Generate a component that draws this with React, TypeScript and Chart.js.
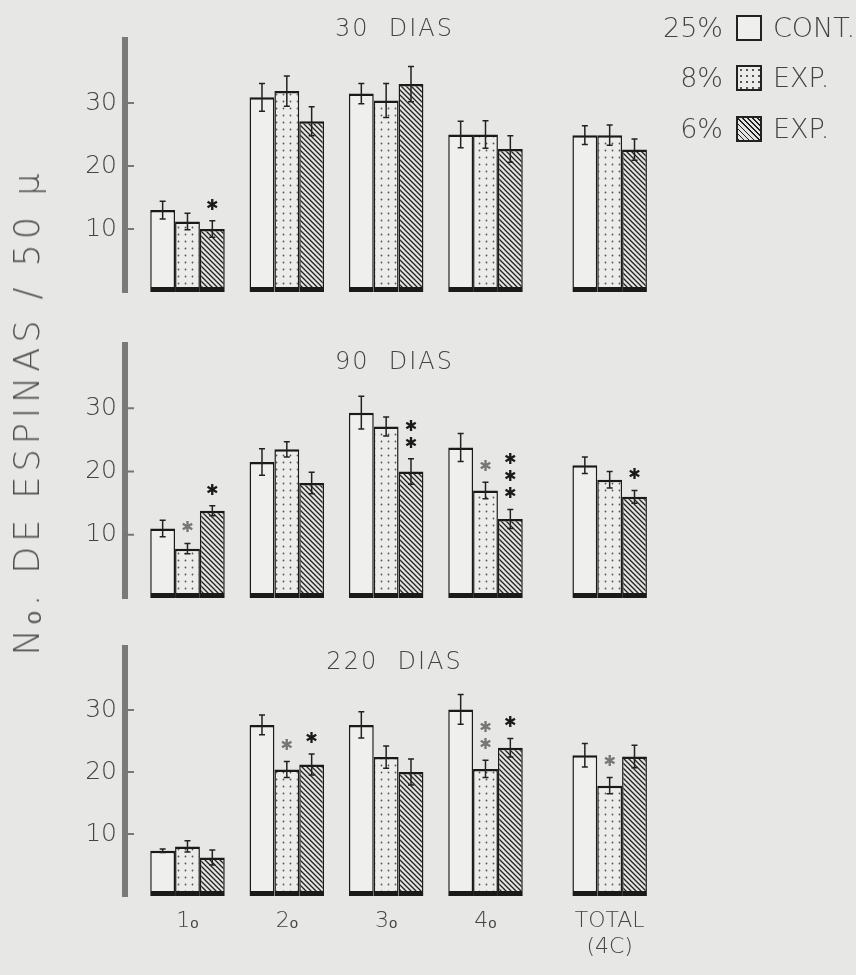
import React, { useEffect, useRef } from 'react';
import { Chart, registerables } from 'chart.js';

Chart.register(...registerables);

// ---------- data ----------
const groupLabels: (string | string[])[] = ['1ₒ', '2ₒ', '3ₒ', '4ₒ', ['TOTAL', '(4C)']];
const groupPositions = [1, 2, 3, 4, 5.25];
const seriesPercent = ['25%', '8%', '6%'];
const seriesNames = ['CONT.', 'EXP.', 'EXP.'];
const yTicks = [10, 20, 30];

// 30 DIAS
const cont30 = [13.0, 30.9, 31.5, 25.0, 24.9];
const cont30Err = [1.4, 2.2, 1.6, 2.1, 1.5];
const exp8_30 = [11.2, 31.9, 30.4, 25.0, 24.9];
const exp8_30Err = [1.3, 2.4, 2.7, 2.2, 1.6];
const exp6_30 = [10.0, 27.1, 33.0, 22.7, 22.6];
const exp6_30Err = [1.3, 2.3, 2.8, 2.1, 1.7];
const sig8_30 = [0, 0, 0, 0, 0];
const sig6_30 = [1, 0, 0, 0, 0];

// 90 DIAS
const cont90 = [11.0, 21.5, 29.3, 23.8, 21.0];
const cont90Err = [1.3, 2.1, 2.6, 2.2, 1.3];
const exp8_90 = [7.8, 23.5, 27.1, 17.0, 18.7];
const exp8_90Err = [0.8, 1.2, 1.5, 1.3, 1.3];
const exp6_90 = [13.8, 18.2, 20.0, 12.5, 16.0];
const exp6_90Err = [0.8, 1.7, 2.0, 1.5, 1.0];
const sig8_90 = [1, 0, 0, 1, 0];
const sig6_90 = [1, 0, 2, 3, 1];

// 220 DIAS
const cont220 = [7.3, 27.6, 27.6, 30.1, 22.7];
const cont220Err = [0.3, 1.6, 2.1, 2.4, 1.9];
const exp8_220 = [8.0, 20.4, 22.4, 20.5, 17.8];
const exp8_220Err = [0.9, 1.3, 1.8, 1.4, 1.3];
const exp6_220 = [6.2, 21.2, 20.0, 23.9, 22.5];
const exp6_220Err = [1.2, 1.7, 2.1, 1.5, 1.8];
const sig8_220 = [0, 1, 0, 2, 1];
const sig6_220 = [0, 1, 0, 1, 0];

const zeros = [0, 0, 0, 0, 0];

// ---------- styling / layout ----------
const FONT = '"DejaVu Sans", "Open Sans", sans-serif';
const BG = '#e7e7e5';
const TEXT = '#444';

type PanelDef = {
  title: string;
  values: number[][];
  errors: number[][];
  sig: number[][];
  top: number;
  height: number;
  padTop: number;
  padBottom: number;
  titleDy: number;
  showX: boolean;
};

const panels: PanelDef[] = [
  {
    title: '30  DIAS',
    values: [cont30, exp8_30, exp6_30],
    errors: [cont30Err, exp8_30Err, exp6_30Err],
    sig: [zeros, sig8_30, sig6_30],
    top: 0, height: 300, padTop: 40, padBottom: 8, titleDy: -10, showX: false,
  },
  {
    title: '90  DIAS',
    values: [cont90, exp8_90, exp6_90],
    errors: [cont90Err, exp8_90Err, exp6_90Err],
    sig: [zeros, sig8_90, sig6_90],
    top: 305, height: 305, padTop: 40, padBottom: 12, titleDy: 18, showX: false,
  },
  {
    title: '220  DIAS',
    values: [cont220, exp8_220, exp6_220],
    errors: [cont220Err, exp8_220Err, exp6_220Err],
    sig: [zeros, sig8_220, sig6_220],
    top: 615, height: 360, padTop: 33, padBottom: 0, titleDy: 15, showX: true,
  },
];

function makeDotPattern(): CanvasPattern | string {
  const c = document.createElement('canvas');
  c.width = 7; c.height = 7;
  const g = c.getContext('2d');
  if (!g) return '#ddd';
  g.fillStyle = '#ececea';
  g.fillRect(0, 0, 7, 7);
  g.fillStyle = '#555';
  g.beginPath();
  g.arc(3.5, 3.5, 0.9, 0, Math.PI * 2);
  g.fill();
  return g.createPattern(c, 'repeat') || '#ddd';
}

function makeHatchPattern(): CanvasPattern | string {
  const s = 5;
  const c = document.createElement('canvas');
  c.width = s; c.height = s;
  const g = c.getContext('2d');
  if (!g) return '#999';
  g.fillStyle = '#e4e4e2';
  g.fillRect(0, 0, s, s);
  g.strokeStyle = '#222';
  g.lineWidth = 1.3;
  g.beginPath();
  g.moveTo(-1, -1); g.lineTo(s + 1, s + 1);
  g.moveTo(-1, s - 1); g.lineTo(1, s + 1);
  g.moveTo(s - 1, -1); g.lineTo(s + 1, 1);
  g.stroke();
  return g.createPattern(c, 'repeat') || '#999';
}

function Panel({ def }: { def: PanelDef }) {
  const ref = useRef<HTMLCanvasElement | null>(null);
  useEffect(() => {
    if (!ref.current) return;
    const fills = ['#efefed', makeDotPattern(), makeHatchPattern()];
    const starColors = ['#222', '#777', '#1a1a1a'];

    const overlay = {
      id: 'overlay',
      afterDatasetsDraw(chart: any) {
        const ctx = chart.ctx;
        const ys = chart.scales.y;
        const area = chart.chartArea;
        ctx.save();
        // inside tick marks
        ctx.strokeStyle = '#777';
        ctx.lineWidth = 2;
        yTicks.forEach((t) => {
          const py = ys.getPixelForValue(t);
          ctx.beginPath();
          ctx.moveTo(area.left, py);
          ctx.lineTo(area.left + 9, py);
          ctx.stroke();
        });
        // error bars + asterisks
        def.values.forEach((vals, di) => {
          const meta = chart.getDatasetMeta(di);
          meta.data.forEach((el: any, j: number) => {
            const v = vals[j];
            const e = def.errors[di][j];
            const x = el.x;
            const yT = ys.getPixelForValue(v + e);
            const yB = ys.getPixelForValue(v - e);
            ctx.strokeStyle = '#222';
            ctx.lineWidth = 1.5;
            ctx.beginPath();
            ctx.moveTo(x, yT); ctx.lineTo(x, yB);
            ctx.moveTo(x - 3, yT); ctx.lineTo(x + 3, yT);
            ctx.moveTo(x - 3, yB); ctx.lineTo(x + 3, yB);
            ctx.stroke();
            const n = def.sig[di][j];
            ctx.fillStyle = starColors[di];
            ctx.font = `15px ${FONT}`;
            ctx.textAlign = 'center';
            ctx.textBaseline = 'middle';
            for (let k = 0; k < n; k++) {
              ctx.fillText('✱', x, yT - 15 - k * 17);
            }
          });
        });
        // title
        ctx.fillStyle = TEXT;
        ctx.font = `200 24px ${FONT}`;
        (ctx as any).letterSpacing = '2px';
        ctx.textAlign = 'center';
        ctx.textBaseline = 'middle';
        ctx.fillText(def.title, (area.left + area.right) / 2 - 8, area.top + def.titleDy);
        ctx.restore();
      },
    };

    const chart = new Chart(ref.current, {
      type: 'bar',
      data: {
        datasets: def.values.map((vals, di) => ({
          label: seriesPercent[di] + ' ' + seriesNames[di],
          data: vals.map((v, j) => ({ x: groupPositions[j], y: v })),
          backgroundColor: fills[di] as any,
          borderColor: '#1a1a1a',
          borderWidth: { top: 2.5, left: 1.5, right: 1.5, bottom: 5 },
          borderSkipped: false,
          categoryPercentage: 0.75,
          barPercentage: 1,
        })),
      },
      options: {
        animation: false,
        responsive: false,
        events: [],
        layout: { padding: { top: def.padTop, bottom: def.padBottom, left: 0, right: 176 } },
        plugins: { legend: { display: false }, tooltip: { enabled: false }, title: { display: false } },
        scales: {
          x: {
            type: 'linear',
            min: 0.371,
            max: 5.958,
            offset: false,
            display: def.showX,
            grid: { display: false, drawTicks: false },
            border: { display: false },
            afterBuildTicks: (s: any) => {
              s.ticks = groupPositions.map((v) => ({ value: v }));
            },
            afterFit: (s: any) => {
              s.height = def.showX ? 79 : 0;
              s.paddingLeft = 0;
              s.paddingRight = 0;
              s.paddingTop = 0;
              s.paddingBottom = 0;
            },
            ticks: {
              autoSkip: false,
              maxRotation: 0,
              minRotation: 0,
              padding: 12,
              color: TEXT,
              font: { family: FONT, size: 22, weight: 200 as any },
              callback: (_v: any, i: number) => groupLabels[i] as any,
            },
          },
          y: {
            min: 0,
            max: 40,
            grid: { display: false, drawTicks: false },
            border: { display: true, width: 6, color: '#7a7a7a' },
            afterFit: (s: any) => {
              s.width = 125;
              s.paddingLeft = 0;
              s.paddingRight = 0;
              s.paddingTop = 0;
              s.paddingBottom = 0;
            },
            afterBuildTicks: (s: any) => {
              s.ticks = yTicks.map((v) => ({ value: v }));
            },
            ticks: {
              padding: 8,
              color: TEXT,
              font: { family: FONT, size: 25, weight: 200 as any },
              callback: (v: any) => String(v),
            },
          },
        },
      },
      plugins: [overlay],
    });
    return () => chart.destroy();
  }, [def]);

  return (
    <canvas
      ref={ref}
      width={856}
      height={def.height}
      style={{ position: 'absolute', left: 0, top: def.top, width: 856, height: def.height }}
    />
  );
}

const legendTops = [28, 78, 129];
const legendFills = [
  '#efefed',
  'radial-gradient(circle, #555 0.9px, transparent 1.3px) 0 0 / 6px 6px, #ececea',
  'repeating-linear-gradient(45deg, #222 0px, #222 1.2px, #e4e4e2 1.2px, #e4e4e2 3.6px)',
];

export default function App() {
  return (
    <div
      style={{
        position: 'absolute',
        left: 0,
        top: 0,
        width: 856,
        height: 975,
        background: BG,
        overflow: 'hidden',
        fontFamily: FONT,
        color: TEXT,
      }}
    >
      {panels.map((p, i) => (
        <Panel key={i} def={p} />
      ))}
      <div
        style={{
          position: 'absolute',
          left: 27,
          top: 412,
          transform: 'translate(-50%, -50%) rotate(-90deg)',
          whiteSpace: 'nowrap',
          fontSize: 35,
          fontWeight: 200,
          letterSpacing: 5,
          color: '#505050',
        }}
      >
        Nₒ. DE ESPINAS / 50 μ
      </div>
      {seriesPercent.map((pct, i) => (
        <React.Fragment key={i}>
          <div
            style={{
              position: 'absolute',
              right: 133,
              top: legendTops[i] - 17,
              fontSize: 27,
              lineHeight: '34px',
              fontWeight: 200,
              whiteSpace: 'nowrap',
            }}
          >
            {pct}
          </div>
          <div
            style={{
              position: 'absolute',
              left: 736,
              top: legendTops[i] - 13,
              width: 26,
              height: 26,
              boxSizing: 'border-box',
              border: '2px solid #222',
              background: legendFills[i],
            }}
          />
          <div
            style={{
              position: 'absolute',
              left: 773,
              top: legendTops[i] - 17,
              fontSize: 27,
              lineHeight: '34px',
              fontWeight: 200,
              whiteSpace: 'nowrap',
            }}
          >
            {seriesNames[i]}
          </div>
        </React.Fragment>
      ))}
    </div>
  );
}
